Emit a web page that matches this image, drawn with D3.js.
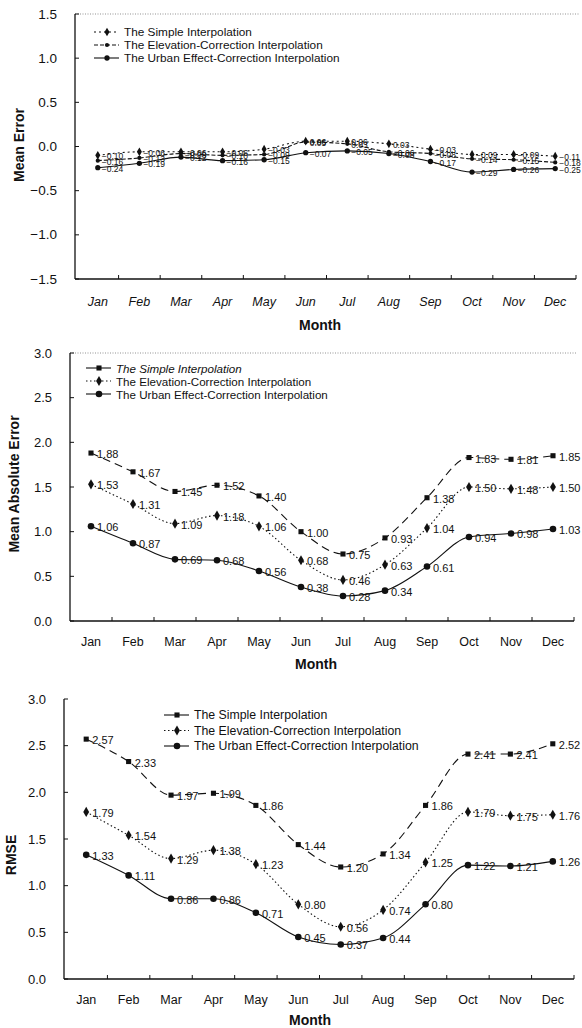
<!DOCTYPE html>
<html>
<head>
<meta charset="utf-8">
<script src="https://cdn.jsdelivr.net/npm/d3@7"></script>
<style>
  body { margin: 0; background: #fff; }
  svg { display: block; font-family: "Liberation Sans", Arial, sans-serif; }
  .tick-text { fill: #111; }
  .month-text { font-size: 12.5px; fill: #111; }
  .axis-title { font-size: 14px; font-weight: bold; fill: #111; }
  .legend-text { fill: #111; }
  .value-text { fill: #111; }
</style>
</head>
<body>
<svg id="chart" width="582" height="1028"></svg>
<script>
// data
var months = ['Jan', 'Feb', 'Mar', 'Apr', 'May', 'Jun', 'Jul', 'Aug', 'Sep', 'Oct', 'Nov', 'Dec'];
var seriesNames = ['The Simple Interpolation', 'The Elevation-Correction Interpolation', 'The Urban Effect-Correction Interpolation'];

var meSimple = [-0.10, -0.06, -0.06, -0.06, -0.03, 0.06, 0.06, 0.03, -0.03, -0.09, -0.09, -0.11];
var meElevation = [-0.16, -0.13, -0.08, -0.10, -0.09, 0.05, 0.03, -0.06, -0.08, -0.14, -0.15, -0.18];
var meUrban = [-0.24, -0.19, -0.12, -0.16, -0.15, -0.07, -0.05, -0.08, -0.17, -0.29, -0.26, -0.25];
var meTicks = [-1.5, -1.0, -0.5, 0.0, 0.5, 1.0, 1.5];

var maeSimple = [1.88, 1.67, 1.45, 1.52, 1.40, 1.00, 0.75, 0.93, 1.38, 1.83, 1.81, 1.85];
var maeElevation = [1.53, 1.31, 1.09, 1.18, 1.06, 0.68, 0.46, 0.63, 1.04, 1.50, 1.48, 1.50];
var maeUrban = [1.06, 0.87, 0.69, 0.68, 0.56, 0.38, 0.28, 0.34, 0.61, 0.94, 0.98, 1.03];
var maeTicks = [0.0, 0.5, 1.0, 1.5, 2.0, 2.5, 3.0];

var rmseSimple = [2.57, 2.33, 1.97, 1.99, 1.86, 1.44, 1.20, 1.34, 1.86, 2.41, 2.41, 2.52];
var rmseElevation = [1.79, 1.54, 1.29, 1.38, 1.23, 0.80, 0.56, 0.74, 1.25, 1.79, 1.75, 1.76];
var rmseUrban = [1.33, 1.11, 0.86, 0.86, 0.71, 0.45, 0.37, 0.44, 0.80, 1.22, 1.21, 1.26];
var rmseTicks = [0.0, 0.5, 1.0, 1.5, 2.0, 2.5, 3.0];

var svg = d3.select('#chart');
var fmt = d3.format('.2f');

// marker shapes
var symbolOf = {
  square: d3.symbolSquare,
  diamond: d3.symbolDiamond,
  circle: d3.symbolCircle
};

var panel = function(cfg) {
  var g = svg.append('g');

  var x = d3.scaleBand().domain(months).range(cfg.xRange);
  var y = d3.scaleLinear().domain(cfg.yDomain).range(cfg.yRange);
  var cx = function(m) { return x(m) + x.bandwidth() / 2; };
  var x1 = cfg.xRange[1];
  var yBottom = cfg.yRange[0], yTop = cfg.yRange[1];

  //dotted frame top
  if (cfg.topBorder) {
    g.append('line')
      .attr('x1', cfg.axisX).attr('x2', x1 + 3)
      .attr('y1', yTop).attr('y2', yTop)
      .attr('stroke', '#777').attr('stroke-width', 0.8)
      .attr('stroke-dasharray', '1,1.5');
  }

  //y axis
  g.append('line')
    .attr('x1', cfg.axisX).attr('x2', cfg.axisX)
    .attr('y1', yTop).attr('y2', yBottom)
    .attr('stroke', '#111').attr('stroke-width', 1.3);

  g.selectAll('.ytick').data(cfg.ticks).enter().append('line')
    .attr('x1', cfg.axisX).attr('x2', cfg.axisX + 4)
    .attr('y1', function(d) { return y(d); })
    .attr('y2', function(d) { return y(d); })
    .attr('stroke', '#111').attr('stroke-width', 1);

  g.selectAll('.ylab').data(cfg.ticks).enter().append('text')
    .attr('class', 'tick-text')
    .attr('font-size', cfg.tickSize)
    .attr('text-anchor', 'end')
    .attr('dominant-baseline', 'central')
    .attr('x', cfg.axisX - 18)
    .attr('y', function(d) { return y(d); })
    .text(function(d) { return d.toFixed(1).replace('-', '\u2212'); });

  //x axis
  g.append('line')
    .attr('x1', cfg.axisX).attr('x2', x1)
    .attr('y1', yBottom).attr('y2', yBottom)
    .attr('stroke', '#111').attr('stroke-width', 1.3);

  g.selectAll('.xtick').data(months).enter().append('line')
    .attr('x1', function(d) { return x(d) + x.bandwidth(); })
    .attr('x2', function(d) { return x(d) + x.bandwidth(); })
    .attr('y1', yBottom).attr('y2', yBottom - 4)
    .attr('stroke', '#111').attr('stroke-width', 1);

  g.selectAll('.xlab').data(months).enter().append('text')
    .attr('class', 'month-text')
    .attr('text-anchor', 'middle')
    .attr('dominant-baseline', 'central')
    .attr('font-style', cfg.italicMonths ? 'italic' : 'normal')
    .attr('x', cx)
    .attr('y', cfg.monthY)
    .text(function(d) { return d; });

  //titles
  g.append('text')
    .attr('class', 'axis-title')
    .attr('text-anchor', 'middle')
    .attr('x', cfg.monthTitle[0]).attr('y', cfg.monthTitle[1])
    .attr('dominant-baseline', 'central')
    .text('Month');

  g.append('text')
    .attr('class', 'axis-title')
    .attr('font-size', cfg.yTitleSize)
    .attr('text-anchor', 'middle')
    .attr('dominant-baseline', 'central')
    .attr('transform', 'translate(' + cfg.yTitle[0] + ',' + cfg.yTitle[1] + ') rotate(-90)')
    .text(cfg.yLabel);

  //series
  cfg.series.forEach(function(s) {
    var pts = months.map(function(m, i) { return { m: m, v: s.values[i] }; });
    var line = d3.line()
      .x(function(d) { return cx(d.m); })
      .y(function(d) { return y(d.v); })
      .curve(d3.curveMonotoneX);

    g.append('path')
      .attr('d', line(pts))
      .attr('fill', 'none')
      .attr('stroke', '#111')
      .attr('stroke-width', 1.1)
      .attr('stroke-dasharray', s.dash);

    g.selectAll(null).data(pts).enter().append('path')
      .attr('d', d3.symbol().type(symbolOf[s.marker]).size(s.size))
      .attr('transform', function(d) { return 'translate(' + cx(d.m) + ',' + y(d.v) + ')'; })
      .attr('fill', '#111');

    g.selectAll(null).data(pts).enter().append('text')
      .attr('class', 'value-text')
      .attr('font-size', cfg.valueSize)
      .attr('x', function(d) { return cx(d.m) + cfg.valueDx; })
      .attr('y', function(d) { return y(d.v) + 1; })
      .attr('dominant-baseline', 'central')
      .text(function(d) { return fmt(d.v); });
  });

  //legend
  var leg = g.append('g').attr('transform', 'translate(' + cfg.legend[0] + ',' + cfg.legend[1] + ')');
  cfg.series.forEach(function(s, i) {
    var row = leg.append('g').attr('transform', 'translate(0,' + i * cfg.legendGap + ')');
    row.append('line')
      .attr('x1', 0).attr('x2', 25)
      .attr('stroke', '#111').attr('stroke-width', 1.1)
      .attr('stroke-dasharray', s.legendDash);
    row.append('path')
      .attr('d', d3.symbol().type(symbolOf[s.marker]).size(s.size))
      .attr('transform', 'translate(13,0)')
      .attr('fill', '#111');
    row.append('text')
      .attr('class', 'legend-text')
      .attr('font-size', cfg.legendSize)
      .attr('x', 30).attr('y', 0)
      .attr('dominant-baseline', 'central')
      .attr('font-style', s.italic ? 'italic' : 'normal')
      .text(seriesNames[i]);
  });
};

// Mean Error
panel({
  xRange: [77, 576], yDomain: [-1.5, 1.5], yRange: [279, 14], axisX: 75,
  ticks: meTicks, tickSize: 13.5, topBorder: true, italicMonths: true,
  monthY: 302, monthTitle: [320, 325], yTitle: [19, 145], yLabel: 'Mean Error', yTitleSize: 14.5,
  legend: [94, 32], legendGap: 13, legendSize: 11.8, valueSize: 8.5, valueDx: 4,
  series: [
    { values: meSimple, marker: 'diamond', size: 22, dash: '2,3', legendDash: '2,3' },
    { values: meElevation, marker: 'circle', size: 14, dash: '4,2', legendDash: '4,2' },
    { values: meUrban, marker: 'circle', size: 22, dash: null, legendDash: null }
  ]
});

// Mean Absolute Error
panel({
  xRange: [70, 574], yDomain: [0, 3], yRange: [621, 353], axisX: 70,
  ticks: maeTicks, tickSize: 13, topBorder: true, italicMonths: false,
  monthY: 642, monthTitle: [316, 664], yTitle: [14, 484], yLabel: 'Mean Absolute Error', yTitleSize: 13.5,
  legend: [86, 368], legendGap: 13, legendSize: 11.6, valueSize: 11, valueDx: 6,
  series: [
    { values: maeSimple, marker: 'square', size: 26, dash: '8,5', legendDash: null, italic: true },
    { values: maeElevation, marker: 'diamond', size: 30, dash: '1.5,2.5', legendDash: '1.5,2.5' },
    { values: maeUrban, marker: 'circle', size: 34, dash: null, legendDash: null }
  ]
});

// RMSE
panel({
  xRange: [65, 574], yDomain: [0, 3], yRange: [979, 699], axisX: 64,
  ticks: rmseTicks, tickSize: 13, topBorder: false, italicMonths: false,
  monthY: 1000, monthTitle: [310, 1020], yTitle: [11, 855], yLabel: 'RMSE', yTitleSize: 14,
  legend: [164, 715], legendGap: 15.5, legendSize: 12.3, valueSize: 11, valueDx: 6,
  series: [
    { values: rmseSimple, marker: 'square', size: 26, dash: '8,5', legendDash: null },
    { values: rmseElevation, marker: 'diamond', size: 30, dash: '1.5,2.5', legendDash: '1.5,2.5' },
    { values: rmseUrban, marker: 'circle', size: 34, dash: null, legendDash: null }
  ]
});
</script>
</body>
</html>
